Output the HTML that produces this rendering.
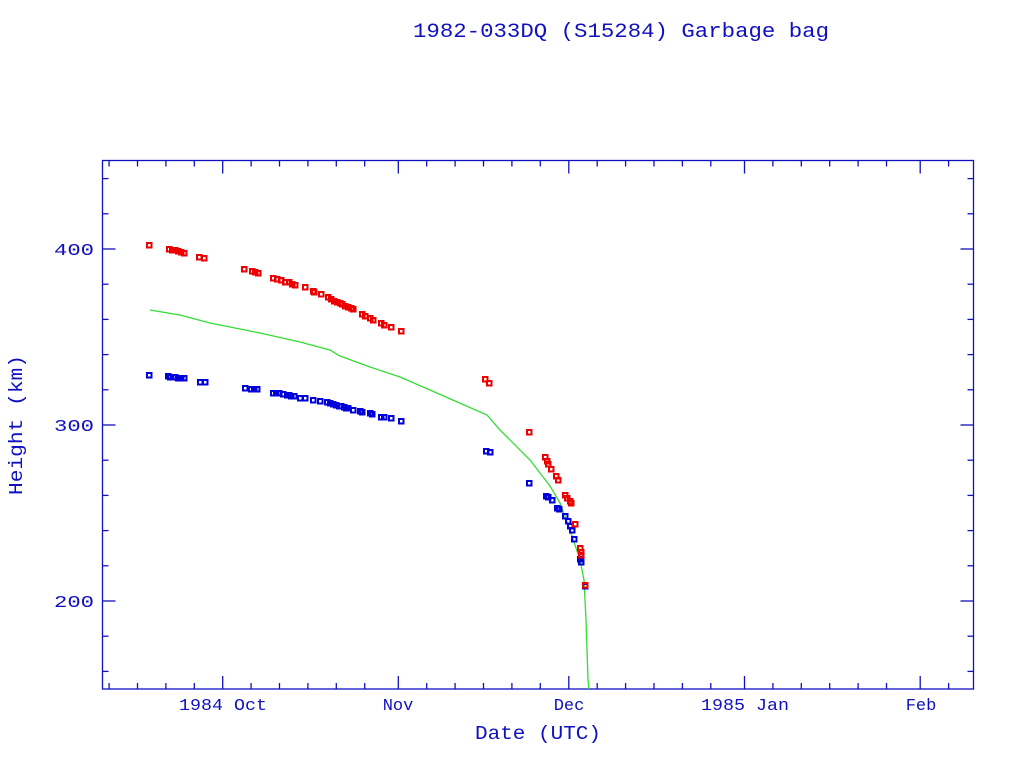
<!DOCTYPE html>
<html><head><meta charset="utf-8"><style>
html,body{margin:0;padding:0;background:#fff;width:1024px;height:768px;overflow:hidden}
svg text{font-family:"Liberation Mono",monospace;fill:#1010c0}
</style></head><body>
<svg id="s" width="1024" height="768" xmlns="http://www.w3.org/2000/svg">
<text x="413" y="37" font-size="20" textLength="416" lengthAdjust="spacingAndGlyphs">1982-033DQ (S15284) Garbage bag</text>
<rect x="102.5" y="160.5" width="871" height="528.5" fill="none" stroke="#1010c0" stroke-width="1.3"/>
<g font-size="17" text-anchor="end">
<text x="94" y="255" textLength="40" lengthAdjust="spacingAndGlyphs">400</text>
<text x="94" y="431" textLength="40" lengthAdjust="spacingAndGlyphs">300</text>
<text x="94" y="607" textLength="40" lengthAdjust="spacingAndGlyphs">200</text>
</g>
<g font-size="17" text-anchor="middle">
<text x="223" y="710" textLength="88" lengthAdjust="spacingAndGlyphs">1984 Oct</text>
<text x="398" y="710">Nov</text>
<text x="569" y="710">Dec</text>
<text x="745" y="710" textLength="88" lengthAdjust="spacingAndGlyphs">1985 Jan</text>
<text x="921" y="710">Feb</text>
<text x="538" y="739" font-size="19" textLength="126" lengthAdjust="spacingAndGlyphs">Date (UTC)</text>
<text transform="translate(22,425) rotate(-90)" font-size="19" textLength="140" lengthAdjust="spacingAndGlyphs">Height (km)</text>
</g>
<g id="ticks" stroke="#1010c0" stroke-width="1.3"></g>
<polyline fill="none" stroke="#33dd33" stroke-width="1.3" points="150,310 180,315 210,323 260,333 300,342 330,350 340,356 370,367 400,377 430,390 487,415 500,430 530,460 550,486 560,503 570,530 580,560 584,580 586,620 587,650 588,680 589,689"/>
<g id="pts" fill="none" stroke-width="2"></g>
</svg>
<script>
var NS="http://www.w3.org/2000/svg",t=document.getElementById("ticks"),p=document.getElementById("pts");
function ln(x1,y1,x2,y2){var l=document.createElementNS(NS,"line");l.setAttribute("x1",x1);l.setAttribute("y1",y1);l.setAttribute("x2",x2);l.setAttribute("y2",y2);t.appendChild(l);}
var starts=[[222.7,31],[398.3,30],[568.8,31],[744.5,31],[920.2,28]];
for(var i=0;i<starts.length;i++){var s=starts[i][0];for(var k=0;k<6;k++){var x=s+k*28.4;if(x>973||(k>0&&i<4&&x>=starts[i+1][0]-5))continue;var L=k==0?13:6;ln(x,689,x,689-L);ln(x,160.5,x,160.5+L);}}
for(var k=1;k<5;k++){var x=222.7-k*28.4;if(x>103){ln(x,689,x,683);ln(x,160.5,x,166.5);}}
for(var v=160;v<=440;v+=20){var y=689-(v-150)*1.76;var L=(v%100==0)?13:6;ln(102.5,y,102.5+L,y);ln(973.5,y,973.5-L,y);}
var red=[[149,245],[169,249],[172,250],[175,250],[178,251],[181,252],[184,253],[199,257],[204,258],[244,269],[252,271],[255,272],[258,273],[273,278],[277,279],[281,280],[285,282],[289,282],[292,284],[295,285],[305,287],[313,291],[314,292],[321,294],[328,297],[331,299],[334,301],[337,302],[340,303],[342,304],[345,306],[348,307],[351,308],[353,309],[362,314],[365,316],[370,318],[373,320],[381,323],[384,325],[391,327],[401,331],[485,379],[489,383],[529,432],[545,457],[547,461],[548,464],[551,469],[556,476],[558,480],[565,495],[567,498],[570,501],[571,503],[575,524],[580,548],[581,552],[581,555],[585,585]];
var blue=[[149,375],[168,376],[170,377],[173,377],[175,377],[178,378],[181,378],[184,378],[200,382],[205,382],[245,388],[251,389],[254,389],[257,389],[273,393],[276,393],[279,393],[283,394],[287,395],[289,395],[291,396],[294,396],[300,398],[305,398],[313,400],[320,401],[327,402],[330,403],[333,404],[336,405],[339,406],[341,406],[344,407],[346,408],[348,408],[353,410],[360,411],[362,412],[370,413],[372,414],[381,417],[384,417],[391,418],[401,421],[486,451],[490,452],[529,483],[546,496],[548,497],[552,500],[557,508],[559,509],[565,516],[568,521],[570,526],[572,530],[574,539],[581,556],[580,559],[581,562],[585,586]];
function pts(a,c){a.forEach(function(q){var r=document.createElementNS(NS,"rect");r.setAttribute("x",q[0]-2);r.setAttribute("y",q[1]-2);r.setAttribute("width",4.5);r.setAttribute("height",4.5);r.setAttribute("stroke",c);p.appendChild(r);});}
pts(blue,"#0000dd");pts(red,"#ee0000");
</script>
</body></html>
